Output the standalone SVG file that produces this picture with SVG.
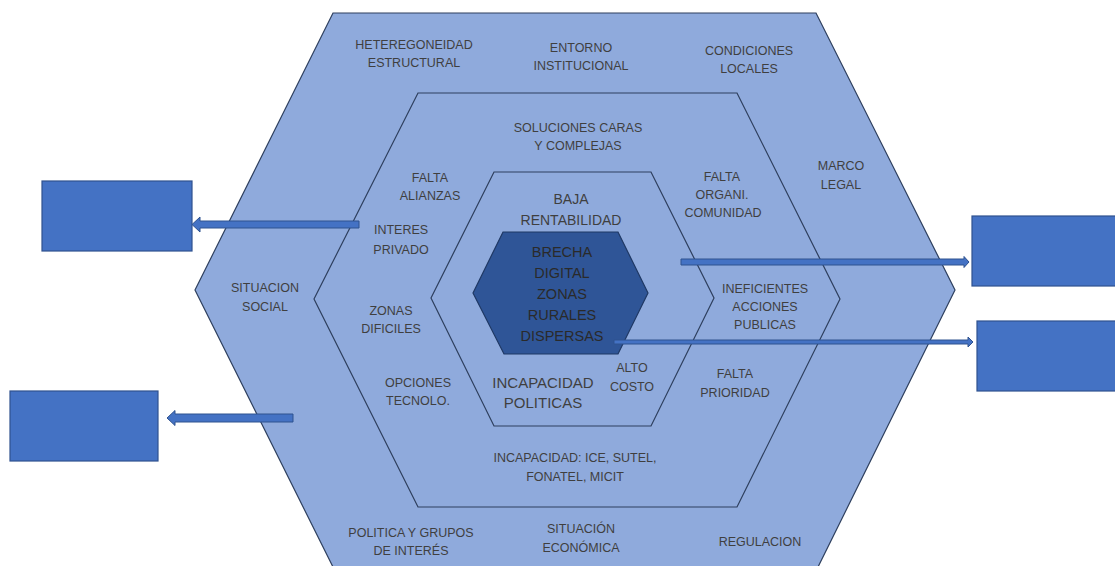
<svg xmlns="http://www.w3.org/2000/svg" width="1115" height="566" viewBox="0 0 1115 566">
<defs>
<style>
.hex{fill:#8FAADC;stroke:#2E3F5E;stroke-width:1.2}
.core{fill:#2F5597;stroke:#1F3864;stroke-width:1.2}
.box{fill:#4472C4;stroke:#2F528F;stroke-width:1.2}
.arr{fill:#4472C4;stroke:#2F528F;stroke-width:1}
text{font-family:"Liberation Sans",Arial,sans-serif;fill:#3F3F3F;text-anchor:middle;dominant-baseline:central}
.s{font-size:12.5px}
.m{font-size:14px}
.l{font-size:15px}
.c{font-size:14.5px;fill:#2A2A2A}
</style>
</defs>
<rect width="1115" height="566" fill="#FFFFFF"/>
<g id="outer">
<polygon class="hex" points="333,13 816,13 955,290 818,567 333,567 195,290"/>
<text class="s" x="414" y="45">HETEREGONEIDAD</text>
<text class="s" x="414" y="63">ESTRUCTURAL</text>
<text class="s" x="581" y="48">ENTORNO</text>
<text class="s" x="581" y="66">INSTITUCIONAL</text>
<text class="s" x="749" y="51">CONDICIONES</text>
<text class="s" x="749" y="69">LOCALES</text>
<text class="s" x="841" y="166">MARCO</text>
<text class="s" x="841" y="185">LEGAL</text>
<text class="s" x="265" y="288">SITUACION</text>
<text class="s" x="265" y="307">SOCIAL</text>
<text class="s" x="411" y="533">POLITICA Y GRUPOS</text>
<text class="s" x="411" y="551">DE INTERÉS</text>
<text class="s" x="581" y="529">SITUACIÓN</text>
<text class="s" x="581" y="548">ECONÓMICA</text>
<text class="s" x="760" y="542">REGULACION</text>
</g>
<g id="middle">
<polygon class="hex" points="418,93 737,93 840,299 737,507 418,507 314,299"/>
<text class="s" x="578" y="128">SOLUCIONES CARAS</text>
<text class="s" x="578" y="146">Y COMPLEJAS</text>
<text class="s" x="430" y="178">FALTA</text>
<text class="s" x="430" y="196">ALIANZAS</text>
<text class="s" x="722" y="177">FALTA</text>
<text class="s" x="722" y="195">ORGANI.</text>
<text class="s" x="723" y="213">COMUNIDAD</text>
<text class="s" x="401" y="230">INTERES</text>
<text class="s" x="401" y="250">PRIVADO</text>
<text class="s" x="391" y="311">ZONAS</text>
<text class="s" x="391" y="329">DIFICILES</text>
<text class="s" x="765" y="289">INEFICIENTES</text>
<text class="s" x="765" y="307">ACCIONES</text>
<text class="s" x="765" y="325">PUBLICAS</text>
<text class="s" x="418" y="383">OPCIONES</text>
<text class="s" x="418" y="401">TECNOLO.</text>
<text class="s" x="735" y="374">FALTA</text>
<text class="s" x="735" y="393">PRIORIDAD</text>
<text class="s" x="575" y="458">INCAPACIDAD: ICE, SUTEL,</text>
<text class="s" x="575" y="477">FONATEL, MICIT</text>
</g>
<g id="inner">
<polygon class="hex" points="494,172 651,172 714,298 651,426 494,426 431,298"/>
<text class="m" x="571" y="199">BAJA</text>
<text class="m" x="571" y="220">RENTABILIDAD</text>
<text class="l" x="543" y="382">INCAPACIDAD</text>
<text class="l" x="543" y="402">POLITICAS</text>
<text class="s" x="632" y="368">ALTO</text>
<text class="s" x="632" y="387">COSTO</text>
</g>
<g id="core">
<polygon class="core" points="503,232 618,232 648,293 618,354 504,354 473,293"/>
<text class="c" x="562" y="252">BRECHA</text>
<text class="c" x="562" y="273">DIGITAL</text>
<text class="c" x="562" y="294">ZONAS</text>
<text class="c" x="562" y="315">RURALES</text>
<text class="c" x="562" y="336">DISPERSAS</text>
</g>
<g id="box-left-top"><rect class="box" x="42" y="181" width="150" height="70"/></g>
<g id="box-left-bottom"><rect class="box" x="10" y="391" width="148" height="70"/></g>
<g id="box-right-top"><rect class="box" x="972" y="216" width="150" height="70"/></g>
<g id="box-right-bottom"><rect class="box" x="977" y="321" width="150" height="70"/></g>
<g id="connectors">
<polygon class="arr" points="359,221 200,221 200,217 192,224.5 200,232 200,228 359,228"/>
<polygon class="arr" points="293,414 175,414 175,410.5 167,418 175,425.5 175,422 293,422"/>
<polygon class="arr" points="681,259 964,259 964,256.5 969,262 964,267.5 964,265 681,265"/>
<polygon class="arr" points="614,340 968,340 968,337 973,342 968,347 968,344 614,344"/>
</g>
</svg>
